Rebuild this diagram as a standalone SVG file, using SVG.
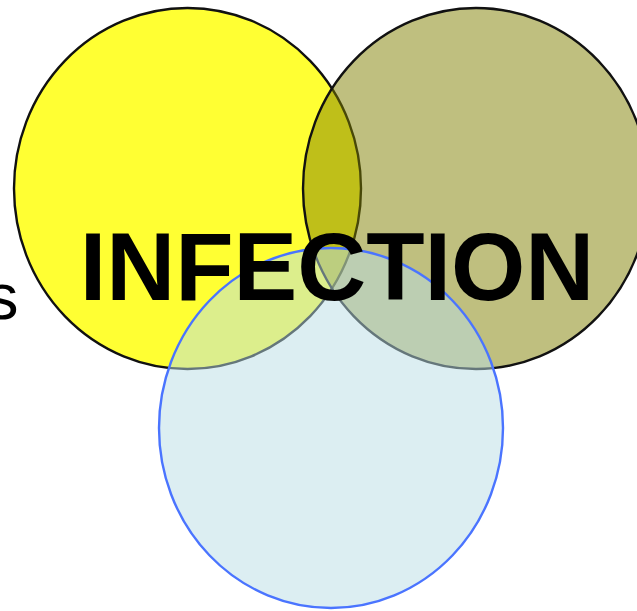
<svg xmlns="http://www.w3.org/2000/svg" width="637" height="611" viewBox="0 0 637 611">
<style>
.c{stroke-width:2.4}
.label{font-family:"Liberation Sans",Arial,sans-serif;fill:#000}
</style>
<rect width="637" height="611" fill="#fff"/>
<g id="node-yellow"><ellipse class="c" cx="187.5" cy="188.5" rx="173.5" ry="180.5" fill="#FFFF33" stroke="#111"/></g>
<g id="node-olive"><ellipse class="c" cx="476" cy="188.5" rx="173" ry="180.5" fill="#808000" fill-opacity="0.5" stroke="#111"/></g>
<g id="node-blue"><ellipse class="c" cx="331" cy="428" rx="172" ry="180" fill="#BADEE6" fill-opacity="0.5" stroke="#4A74FF"/></g>
<g id="connectors"></g>
<g id="labels">
<text class="label" x="-14" y="319" font-size="65">s</text>
<text class="label" x="337" y="300" font-size="95.5" font-weight="bold" text-anchor="middle">INFECTION</text>
</g>
</svg>
